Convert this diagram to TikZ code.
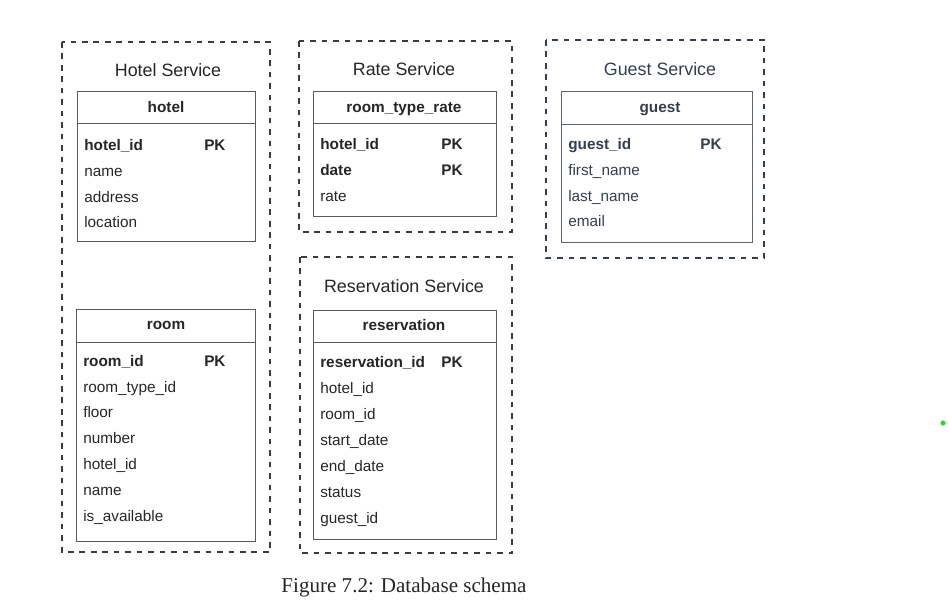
\documentclass[tikz,border=0pt]{standalone}
\usepackage{fontspec}
\setmainfont{Liberation Sans}
\newfontfamily\captionfont{Liberation Serif}
\definecolor{inkgray}{RGB}{38,38,38}
\definecolor{framegray}{RGB}{90,90,90}
\definecolor{guestink}{RGB}{52,62,78}
\definecolor{dotgreen}{RGB}{40,220,30}
\tikzset{
  service/.style={draw=inkgray!90, line width=0.8, dash pattern=on 4.2pt off 4.4pt},
  tableframe/.style={draw=framegray, line width=0.75},
  srvtitle/.style={font=\fontsize{13.4}{16}\selectfont, text=inkgray},
  tablehead/.style={text height=1.5ex, text depth=.3ex, font=\fontsize{11.5}{14}\selectfont\bfseries, text=inkgray},
  field/.style={anchor=west, inner sep=0pt, text height=1.5ex, text depth=.3ex, font=\fontsize{11.5}{14}\selectfont, text=inkgray},
  keyfield/.style={field, font=\fontsize{11.5}{14}\selectfont\bfseries},
}
\begin{document}
\begin{tikzpicture}[x=0.75pt,y=0.75pt,yscale=-1,xscale=1]
    \useasboundingbox (0,0) rectangle (948,613);
    %Dashed Rect [Hotel Service]
    \draw [service] (62,42) rectangle (270,552);
    %Dashed Rect [Rate Service]
    \draw [service] (299,41) rectangle (512,232);
    %Dashed Rect [Guest Service]
    \draw [service, draw=guestink] (546,40) rectangle (764,258);
    %Dashed Rect [Reservation Service]
    \draw [service] (300,257) rectangle (512,553);

    %Table [hotel]
    \draw [tableframe] (77,92) rectangle (255,241);
    \draw [tableframe] (77,124) -- (255,124);
    %Table [room]
    \draw [tableframe] (76,309) rectangle (255,541);
    \draw [tableframe] (76,342) -- (255,342);
    %Table [room_type_rate]
    \draw [tableframe] (313,92) rectangle (496,216);
    \draw [tableframe] (313,124) -- (496,124);
    %Table [guest]
    \draw [tableframe, draw=guestink!80] (561,92) rectangle (752,242);
    \draw [tableframe, draw=guestink!80] (561,125) -- (752,125);
    %Table [reservation]
    \draw [tableframe] (313,310) rectangle (496,539);
    \draw [tableframe] (313,342) -- (496,342);

    % Text Node
    \draw (168,70) node [srvtitle] (hotelTitle) {Hotel Service};
    \draw (166,108) node [tablehead] (hotelHead) {hotel};
    \draw (84,146) node [keyfield] (hotelF1) {hotel\_id};
    \draw (204,146) node [keyfield] (hotelPK) {PK};
    \draw (84,172) node [field] (hotelF2) {name};
    \draw (84,198) node [field] (hotelF3) {address};
    \draw (84,223) node [field] (hotelF4) {location};

    % Text Node
    \draw (166,325) node [tablehead] (roomHead) {room};
    \draw (83,362) node [keyfield] (roomF1) {room\_id};
    \draw (204,362) node [keyfield] (roomPK) {PK};
    \draw (83,388) node [field] (roomF2) {room\_type\_id};
    \draw (83,413) node [field] (roomF3) {floor};
    \draw (83,439) node [field] (roomF4) {number};
    \draw (83,465) node [field] (roomF5) {hotel\_id};
    \draw (83,491) node [field] (roomF6) {name};
    \draw (83,517) node [field] (roomF7) {is\_available};

    % Text Node
    \draw (404,69) node [srvtitle] (rateTitle) {Rate Service};
    \draw (404,108) node [tablehead] (rateHead) {room\_type\_rate};
    \draw (320,145) node [keyfield] (rateF1) {hotel\_id};
    \draw (441,145) node [keyfield] (ratePK1) {PK};
    \draw (320,171) node [keyfield] (rateF2) {date};
    \draw (441,171) node [keyfield] (ratePK2) {PK};
    \draw (320,197) node [field] (rateF3) {rate};

    % Text Node
    \draw (660,69) node [srvtitle, text=guestink] (guestTitle) {Guest Service};
    \draw (660,108) node [tablehead, text=guestink] (guestHead) {guest};
    \draw (568,145) node [keyfield, text=guestink] (guestF1) {guest\_id};
    \draw (700,145) node [keyfield, text=guestink] (guestPK) {PK};
    \draw (568,171) node [field, text=guestink] (guestF2) {first\_name};
    \draw (568,197) node [field, text=guestink] (guestF3) {last\_name};
    \draw (568,222) node [field, text=guestink] (guestF4) {email};

    % Text Node
    \draw (404,286) node [srvtitle] (resvTitle) {Reservation Service};
    \draw (404,326) node [tablehead] (resvHead) {reservation};
    \draw (320,363) node [keyfield] (resvF1) {reservation\_id};
    \draw (441,363) node [keyfield] (resvPK) {PK};
    \draw (320,389) node [field] (resvF2) {hotel\_id};
    \draw (320,415) node [field] (resvF3) {room\_id};
    \draw (320,441) node [field] (resvF4) {start\_date};
    \draw (320,467) node [field] (resvF5) {end\_date};
    \draw (320,493) node [field] (resvF6) {status};
    \draw (320,519) node [field] (resvF7) {guest\_id};

    % Caption
    \draw (404,587) node [font=\captionfont\fontsize{15.8}{19}\selectfont, text=inkgray] (caption) {Figure 7.2: Database schema};
    % Dot
    \fill [dotgreen] (943,423) circle (2.6);
\end{tikzpicture}
\end{document}
